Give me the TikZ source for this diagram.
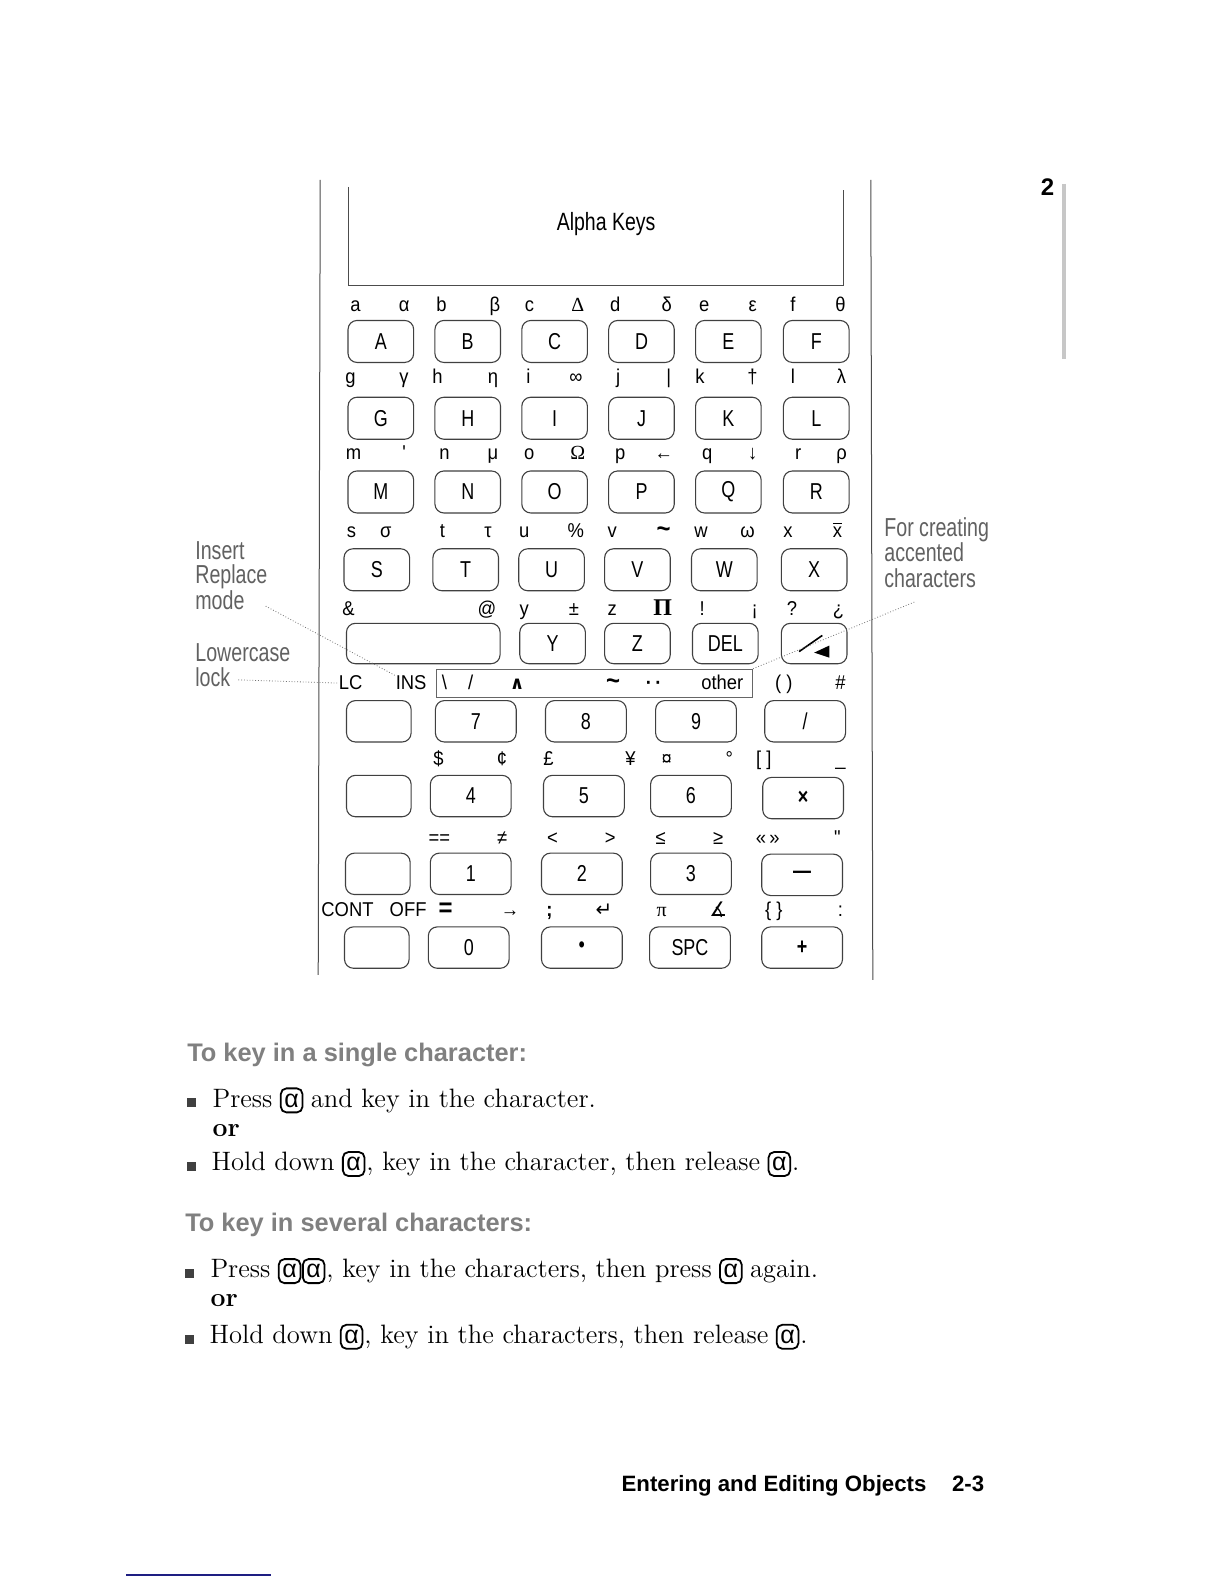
\documentclass[tikz,border=0pt]{standalone}
\usepackage{fontspec}
\newfontfamily\keyfont[FakeStretch=0.78]{Liberation Sans}
\newfontfamily\labfont[FakeStretch=0.92]{Liberation Sans}
\newfontfamily\notefont[FakeStretch=0.755]{Liberation Sans}
\newfontfamily\headfont{Liberation Sans}
\newfontfamily\symfont{DejaVu Sans}
\newfontfamily\sersym{Liberation Serif}
\definecolor{navyline}{RGB}{30,30,130}
\newcommand\xbarchar{{\setbox0\hbox{x}\rlap{\rule[0.66em]{\wd0}{0.45pt}}x}}
\begin{document}
\begin{tikzpicture}[x=0.505pt,y=-0.505pt,
  key/.style={draw=black!75, line width=0.55pt, rounded corners=4.5pt, inner sep=0pt,
    font=\keyfont\fontsize{11.5}{12}\selectfont, minimum width=32.8pt, minimum height=21pt},
  nkey/.style={key, minimum width=40.4pt, minimum height=20.7pt},
  bkey/.style={key, minimum width=32.3pt, minimum height=20.7pt},
  lab/.style={font=\labfont\fontsize{10}{11}\selectfont, anchor=base, inner sep=0pt},
  note/.style={font=\notefont\fontsize{13}{14}\selectfont, text=black!62, anchor=base west, inner sep=0pt},
  lead/.style={black!55, line width=0.4pt, densely dotted},
  frameline/.style={black!70, line width=0.5pt},
  body/.style={font=\fontsize{13.3}{15}\selectfont, anchor=base west, inner sep=0pt},
  orword/.style={body, font=\bfseries\fontsize{13.3}{15}\selectfont},
  akey/.style={draw, line width=0.9pt, rounded corners=2.8pt, anchor=base west, inner xsep=1.8pt,
    inner ysep=1.6pt, text height=7.8pt, text depth=1pt, font=\headfont\fontsize{12.5}{15}\selectfont},
  heading/.style={font=\headfont\bfseries\fontsize{12.7}{14}\selectfont, text=black!50, anchor=base west, inner sep=0pt},
  bul/.style={fill=black!75, minimum size=4.5pt, inner sep=0pt},
  foot/.style={font=\headfont\bfseries\fontsize{11.1}{13}\selectfont, anchor=base west, inner sep=0pt}]
\fill[white] (0,0) rectangle (1212,1568);
\useasboundingbox (0,0) rectangle (1212,1568);

% outer frame lines and display box
\draw[frameline] (317,178) -- (315,965);
\draw[frameline] (862,178) -- (864,970);
\draw[frameline] (345,185) -- (345,283) -- (835,283) -- (835,188);
\node[font=\keyfont\fontsize{12.5}{14}\selectfont] (title) at (600,222) {Alpha Keys};

% page tab
\node[font=\headfont\bfseries\fontsize{12}{14}\selectfont, anchor=base] (tabnum) at (1037,194) {2};
\draw[black!22, line width=2.2pt] (1053,182) -- (1053,355);

% row label texts
\foreach \x/\t [count=\n] in {352/a, 400/α, 437/b, 490/β, 524/c, 572/{\sersym Δ}, 609/d, 660/δ, 697/e, 745/ε, 785/f, 832/θ}
  \node[lab] (la\n) at (\x,308) {\t};
\foreach \x/\t [count=\n] in {347/g, 400/γ, 433/h, 488/η, 523/i, 570/∞, 612/j, 662/|, 693/k, 745/†, 785/l, 833/λ}
  \node[lab] (lb\n) at (\x,380) {\t};
\foreach \x/\t [count=\n] in {350/m, 400/', 440/n, 488/μ, 524/o, 572/{\sersym Ω}, 614/p, 657/←, 700/q, 745/↓, 790/r, 833/ρ}
  \node[lab] (lc\n) at (\x,455) {\t};
\foreach \x/\t [count=\n] in {348/s, 382/σ, 438/t, 483/τ, 519/u, 570/\%, 606/v, 657/{\bfseries\fontsize{13}{13}\selectfont\textasciitilde}, 694/w, 740/ω, 780/x, 829/\xbarchar}
  \node[lab] (ld\n) at (\x,532) {\t};
\foreach \x/\t [count=\n] in {345/\&, 482/@, 519/y, 568/±, 606/z, 656/{\sersym\bfseries\fontsize{12}{12}\selectfont Π}, 695/!, 747/¡, 784/?, 830/¿}
  \node[lab] (le\n) at (\x,609) {\t};
\foreach \x/\t [count=\n] in {347/LC, 407/INS, 440/\textbackslash, 466/{/}, 512/{\symfont\bfseries\fontsize{9}{9}\selectfont ∧}, 607/{\bfseries\fontsize{13}{13}\selectfont\textasciitilde}, 647/{\bfseries ·\,·}, 715/other, 776/{( )}, 832/\#}
  \node[lab] (lf\n) at (\x,683) {\t};
\foreach \x/\t [count=\n] in {434/\$, 497/¢, 543/£, 624/¥, 660/¤, 722/°, 756/{[ ]}, 832/\_}
  \node[lab] (lg\n) at (\x,758) {\t};
\foreach \x/\t [count=\n] in {435/==, 497/≠, 547/<, 604/>, 654/≤, 711/≥, 760/{«\,»}, 829/"}
  \node[lab] (lh\n) at (\x,836) {\t};
\foreach \x/\t [count=\n] in {344/CONT, 404/OFF, 441/{\bfseries\fontsize{13}{13}\selectfont =}, 505/→, 544/{\bfseries ;}, 598/{\symfont ↵}, 655/{\sersym π}, 711/{\symfont ∡}, 766/{\{ \}}, 832/:}
  \node[lab] (li\n) at (\x,907) {\t};

% box around accent characters
\node[draw=black!60, line width=0.45pt, minimum width=158pt, minimum height=14.2pt, inner sep=0pt] (obox) at (588.5,676.5) {};

% letter keys
\foreach \x/\t in {377/A, 463/B, 549/C, 635/D, 721/E, 808/F}
  \node[key] (k\t) at (\x,338) {\t};
\foreach \x/\t in {377/G, 463/H, 549/I, 635/J, 721/K, 808/L}
  \node[key] (k\t) at (\x,414) {\t};
\foreach \x/\t in {377/M, 463/N, 549/O, 635/P, 721/Q, 808/R}
  \node[key] (k\t) at (\x,487) {\t};
\foreach \x/\t in {373/S, 461/T, 546/U, 631/V, 717/W, 806/X}
  \node[key] (k\t) at (\x,564) {\t};
\node[key, minimum width=76.8pt, minimum height=20.2pt] (kENTER) at (419,637) {};
\node[key, minimum height=20.2pt] (kY) at (547,637) {Y};
\node[key, minimum height=20.2pt] (kZ) at (631,637) {Z};
\node[key, minimum height=20.2pt] (kDEL) at (718,637) {DEL};
\node[key, minimum height=20.2pt] (kBS) at (806,637) {};
\draw[line width=0.8pt] ([shift={(-15,8)}]kBS.center) -- ([shift={(8,-8)}]kBS.center);
\fill ([shift={(0,9)}]kBS.center) -- ([shift={(15,2)}]kBS.center) -- ([shift={(15,14)}]kBS.center) -- cycle;

% number rows
\node[bkey] (kb1) at (375,714) {};
\node[nkey] (k7) at (471,714) {7};
\node[nkey] (k8) at (580,714) {8};
\node[nkey] (k9) at (689,714) {9};
\node[nkey] (kdiv) at (797,714) {/};
\node[bkey] (kb2) at (375,788) {};
\node[nkey] (k4) at (466,788) {4};
\node[nkey] (k5) at (578,788) {5};
\node[nkey] (k6) at (684,788) {6};
\node[nkey] (kmul) at (795,790) {\bfseries ×};
\node[bkey] (kb3) at (374,865) {};
\node[nkey] (k1) at (466,865) {1};
\node[nkey] (k2) at (576,865) {2};
\node[nkey] (k3) at (684,865) {3};
\node[nkey] (kmin) at (794,866) {\bfseries —};
\node[bkey] (kb4) at (373,938) {};
\node[nkey] (k0) at (464,938) {0};
\node[nkey] (kdot) at (576,938) {•};
\node[nkey] (kspc) at (683,938) {SPC};
\node[nkey] (kplus) at (794,938) {\bfseries +};

% annotations
\node[note] (n1) at (193,554) {Insert};
\node[note] (n2) at (193,578) {Replace};
\node[note] (n3) at (193,603) {mode};
\node[note] (n4) at (193,655) {Lowercase};
\node[note] (n5) at (193,680) {lock};
\node[note] (r1) at (875,531) {For creating};
\node[note] (r2) at (875,556) {accented};
\node[note] (r3) at (875,582) {characters};
\coordinate (m1) at (263,600);
\coordinate (m2) at (236,673);
\coordinate (m3) at (905,596);
\draw[lead] (m1) -- (lf2.north west);
\draw[lead] (m2) -- (lf1.west);
\draw[lead] (m3) -- (obox.north east);

% instructions
\node[heading] (h1) at (185,1051) {To key in a single character:};
\node[bul] (b1) at (190,1091) {};
\node[body] (t1a) at (210,1096) {Press};
\node[akey] (q1) at ([xshift=3.5pt]t1a.base east) {α};
\node[body] (t1b) at ([xshift=3.5pt]q1.base east) {and key in the character.};
\node[orword] (or1) at (210,1125) {or};
\node[bul] (b2) at (190,1155) {};
\node[body] (t2a) at (209,1159) {Hold down};
\node[akey] (q2) at ([xshift=3.5pt]t2a.base east) {α};
\node[body] (t2b) at ([xshift=0.3pt]q2.base east) {, key in the character, then release};
\node[akey] (q3) at ([xshift=3.5pt]t2b.base east) {α};
\node[body] (t2c) at ([xshift=0.3pt]q3.base east) {.};

\node[heading] (h2) at (183,1219) {To key in several characters:};
\node[bul] (b3) at (188,1261) {};
\node[body] (t3a) at (208,1265) {Press};
\node[akey] (q4) at ([xshift=3.5pt]t3a.base east) {α};
\node[akey] (q5) at ([xshift=0.3pt]q4.base east) {α};
\node[body] (t3b) at ([xshift=0.3pt]q5.base east) {, key in the characters, then press};
\node[akey] (q6) at ([xshift=3.5pt]t3b.base east) {α};
\node[body] (t3c) at ([xshift=3.5pt]q6.base east) {again.};
\node[orword] (or2) at (208,1293) {or};
\node[bul] (b4) at (188,1326) {};
\node[body] (t4a) at (207,1330) {Hold down};
\node[akey] (q7) at ([xshift=3.5pt]t4a.base east) {α};
\node[body] (t4b) at ([xshift=0.3pt]q7.base east) {, key in the characters, then release};
\node[akey] (q8) at ([xshift=3.5pt]t4b.base east) {α};
\node[body] (t4c) at ([xshift=0.3pt]q8.base east) {.};

% footer
\node[foot] (ft) at (615,1476) {Entering and Editing Objects};
\node[foot] (pg) at (942,1476) {2-3};
\draw[navyline, line width=1pt] (125,1559) -- (268,1559);
\end{tikzpicture}
\end{document}
